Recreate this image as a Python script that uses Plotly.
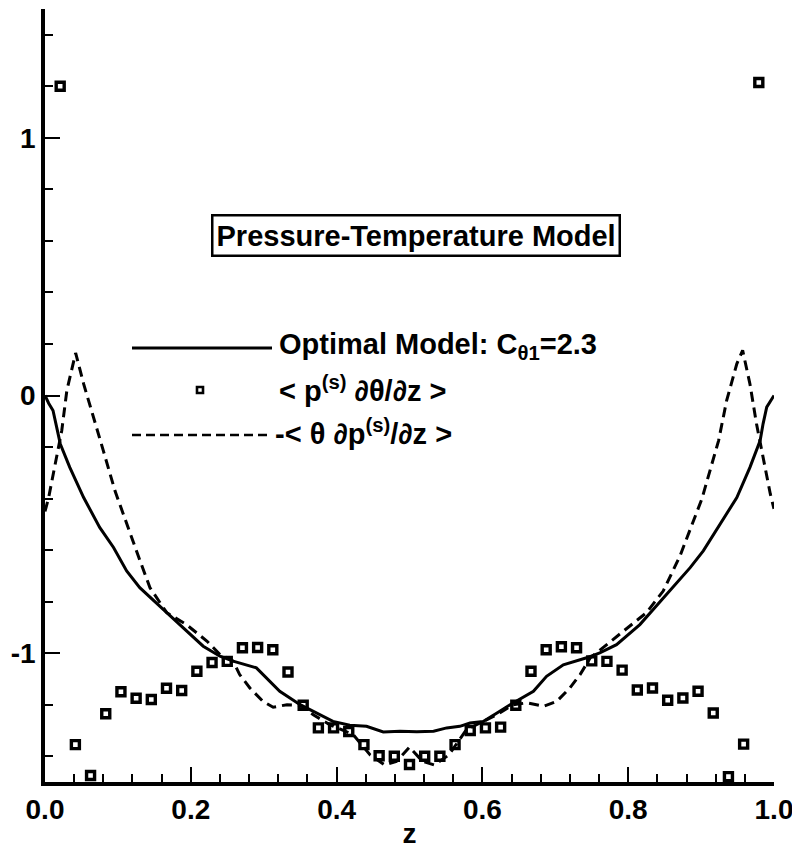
import plotly.graph_objects as go

# ---- data ----
model_z = [0, 0.005, 0.011, 0.021, 0.034, 0.053, 0.075, 0.094, 0.112, 0.13, 0.167, 0.194,
           0.217, 0.24, 0.258, 0.29, 0.304, 0.322, 0.35, 0.377, 0.395, 0.418, 0.441, 0.464,
           0.487, 0.51, 0.533, 0.551, 0.569, 0.583, 0.601, 0.62, 0.638, 0.67, 0.688, 0.711,
           0.743, 0.761, 0.784, 0.816, 0.853, 0.885, 0.903, 0.949, 0.967, 0.981, 0.985, 0.99, 1.0]
model_v = [0, -0.03, -0.058, -0.188, -0.279, -0.396, -0.512, -0.59, -0.681, -0.746, -0.843, -0.914,
           -0.973, -1.012, -1.031, -1.057, -1.096, -1.148, -1.20, -1.239, -1.265, -1.28, -1.284, -1.306,
           -1.303, -1.305, -1.303, -1.29, -1.284, -1.271, -1.265, -1.232, -1.20, -1.148, -1.09, -1.045,
           -1.018, -0.999, -0.967, -0.889, -0.772, -0.668, -0.603, -0.396, -0.279, -0.175, -0.11, -0.045, 0.0]

pdtheta_z = [i / 48 for i in range(1, 48)]
pdtheta_v = [1.20, -1.355, -1.475, -1.235, -1.15, -1.175, -1.18, -1.136, -1.145, -1.07,
             -1.036, -1.032, -0.979, -0.978, -0.987, -1.073, -1.202, -1.29, -1.29, -1.304,
             -1.355, -1.398, -1.40, -1.432, -1.40, -1.40, -1.355, -1.30, -1.29, -1.287,
             -1.202, -1.07, -0.987, -0.975, -0.979, -1.03, -1.032, -1.066, -1.143, -1.135,
             -1.183, -1.174, -1.148, -1.232, -1.479, -1.353, 1.215]

thetadp_z = [0, 0.005, 0.014, 0.023, 0.03, 0.042, 0.053, 0.066, 0.08, 0.096, 0.107, 0.128,
             0.144, 0.167, 0.194, 0.222, 0.24, 0.258, 0.267, 0.281, 0.299, 0.313, 0.332, 0.35,
             0.368, 0.391, 0.423, 0.446, 0.466, 0.482, 0.5, 0.518, 0.534, 0.554, 0.578, 0.62,
             0.642, 0.661, 0.684, 0.702, 0.72, 0.734, 0.748, 0.77, 0.802, 0.825, 0.848, 0.871,
             0.901, 0.912, 0.924, 0.935, 0.949, 0.957, 0.967, 0.976, 0.985, 0.995, 1.0]
thetadp_v = [-0.45, -0.396, -0.266, -0.136, 0.02, 0.165, 0.045, -0.084, -0.214, -0.37, -0.46, -0.623,
             -0.746, -0.843, -0.889, -0.953, -1.005, -1.031, -1.083, -1.135, -1.187, -1.21, -1.20, -1.202,
             -1.239, -1.278, -1.317, -1.395, -1.434, -1.42, -1.365, -1.42, -1.434, -1.395, -1.297, -1.239,
             -1.20, -1.193, -1.206, -1.187, -1.135, -1.083, -1.018, -0.967, -0.895, -0.843, -0.759, -0.623,
             -0.402, -0.292, -0.175, -0.02, 0.123, 0.175, 0.045, -0.11, -0.24, -0.383, -0.44]

x_ticks = [0.0, 0.2, 0.4, 0.6, 0.8, 1.0]
y_ticks = [-1, 0, 1]
y_tick_text = ["-1", "0", "1"]

legend_labels = ["Optimal Model: C<sub>θ1</sub>=2.3",
                 "&lt; p<sup>(s)</sup> ∂θ/∂z &gt;",
                 "-&lt; θ ∂p<sup>(s)</sup>/∂z &gt;"]
box_title = "Pressure-Temperature Model"
x_title = "z"

# ---- figure ----
FONT = "Liberation Sans, Arial, Helvetica, sans-serif"
W, H = 792, 849
L, R, T, B = 45, 18, 9, 67
pw, ph = W - L - R, H - T - B


def px(xp):
    return (xp - L) / pw


def py(yp):
    return (H - B - yp) / ph


fig = go.Figure()
fig.add_trace(go.Scatter(x=model_z, y=model_v, mode="lines",
                         line=dict(color="black", width=3), showlegend=False))
fig.add_trace(go.Scatter(x=thetadp_z, y=thetadp_v, mode="lines",
                         line=dict(color="black", width=3, dash="10px,6px"), showlegend=False))
fig.add_trace(go.Scatter(x=pdtheta_z, y=pdtheta_v, mode="markers",
                         marker=dict(symbol="square-open", size=8, color="black",
                                     line=dict(width=3.4, color="black")),
                         showlegend=False, cliponaxis=False))

# manual legend
shapes = [
    dict(type="line", xref="paper", yref="paper", x0=px(132), x1=px(272), y0=py(348), y1=py(348),
         line=dict(color="black", width=3)),
    dict(type="line", xref="paper", yref="paper", x0=px(132), x1=px(272), y0=py(435), y1=py(435),
         line=dict(color="black", width=2.4, dash="9px,5px")),
    dict(type="rect", xref="paper", yref="paper", x0=px(197), x1=px(203), y0=py(393), y1=py(387),
         line=dict(color="black", width=2.6)),
]
fig.update_layout(shapes=shapes)

lab_font = dict(family=FONT, size=29, color="black", weight="bold")
rows = [(277, 346), (277, 389), (273, 432)]
for (xp, yp), txt in zip(rows, legend_labels):
    fig.add_annotation(xref="paper", yref="paper", x=px(xp), y=py(yp), xanchor="left",
                       yanchor="middle", text=txt, showarrow=False, font=lab_font)

fig.add_annotation(xref="paper", yref="paper", x=px(416), y=py(235), xanchor="center",
                   yanchor="middle", text=box_title, showarrow=False, font=lab_font,
                   bordercolor="black", borderwidth=2.5, borderpad=3, bgcolor="white")

tick_font = dict(family=FONT, size=28, color="black", weight="bold")
fig.update_layout(
    width=W, height=H,
    margin=dict(l=L, r=R, t=T, b=B, pad=0, autoexpand=False),
    paper_bgcolor="white", plot_bgcolor="white",
    showlegend=False,
    xaxis=dict(range=[0, 1], tickvals=x_ticks, tickformat=".1f", automargin=False,
               showline=True, linecolor="black", linewidth=3.5, mirror=False,
               ticks="inside", ticklen=15, tickwidth=2, tickcolor="black",
               minor=dict(ticks="inside", ticklen=8, tickwidth=2, dtick=0.04, tick0=0,
                          tickcolor="black", showgrid=False),
               showgrid=False, zeroline=False, ticklabeloverflow="allow",
               tickfont=tick_font,
               title=dict(text=x_title, standoff=2, font=tick_font)),
    yaxis=dict(range=[-1.5, 1.5], tickvals=y_ticks, ticktext=y_tick_text, automargin=False,
               showline=True, linecolor="black", linewidth=3.5, mirror=False,
               ticks="inside", ticklen=15, tickwidth=2, tickcolor="black",
               minor=dict(ticks="inside", ticklen=8, tickwidth=2, dtick=0.2, tick0=0,
                          tickcolor="black", showgrid=False),
               showgrid=False, zeroline=False, ticklabelstandoff=0, ticklabeloverflow="allow",
               tickfont=tick_font),
)

fig.write_html("out.html")
